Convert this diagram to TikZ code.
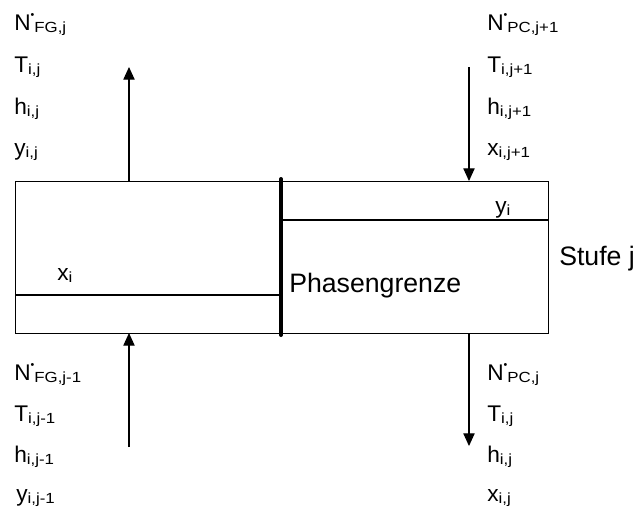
\documentclass[tikz,border=0pt]{standalone}
\usepackage{fontspec}
\setmainfont{Liberation Sans}
\newfontfamily\subf[FakeStretch=1.15]{Liberation Sans}
\usetikzlibrary{arrows.meta}
\newcommand{\lab}[2]{#1\raisebox{-1.5pt}{\subf\fontsize{11}{12}\selectfont #2}}
\newcommand{\Nd}[1]{N\raisebox{8.8pt}{\fontsize{8}{8}\selectfont •}\raisebox{-1.5pt}{\subf\fontsize{11}{12}\selectfont #1}}
\tikzset{
  txt/.style={anchor=base west, inner sep=0pt, font=\fontsize{20}{24}\selectfont},
  lbl/.style={anchor=base west, inner sep=0pt, font=\fontsize{17}{20}\selectfont},
  box/.style={draw=black, line width=0.8pt},
  flow/.style={draw=black, line width=0.8pt, -{Triangle[width=8.5pt,length=9.5pt]}},
  interface/.style={draw=black, line width=3pt, line cap=round}
}
\begin{document}
\begin{tikzpicture}[x=0.75pt,y=-0.75pt]
\useasboundingbox (0,0) rectangle (640,508);
% main box
\node[box, minimum width=533*0.75pt, minimum height=152*0.75pt, anchor=north west, inner sep=0pt] (stage) at (15,181) {};
% inner lines
\coordinate (xl) at (15,295);
\coordinate (xr) at (281,295);
\coordinate (yl) at (281,220);
\coordinate (yr) at (548,220);
\draw[box] (xl) -- (xr);
\draw[box] (yl) -- (yr);
% phase boundary
\coordinate (pt) at (281,179);
\coordinate (pb) at (281,335);
\draw[interface] (pt) -- (pb);
% arrows
\coordinate (a1s) at (129,181);
\coordinate (a1e) at (129,67);
\coordinate (a2s) at (469,67);
\coordinate (a2e) at (469,181);
\coordinate (a3s) at (129,447);
\coordinate (a3e) at (129,333);
\coordinate (a4s) at (469,333);
\coordinate (a4e) at (469,446);
\draw[flow] (a1s) -- (a1e);
\draw[flow] (a2s) -- (a2e);
\draw[flow] (a3s) -- (a3e);
\draw[flow] (a4s) -- (a4e);
% top left labels
\node[lbl] (tl1) at (14,30) {\Nd{FG,j}};
\node[lbl] (tl2) at (14,72) {\lab{T}{i,j}};
\node[lbl] (tl3) at (14,114) {\lab{h}{i,j}};
\node[lbl] (tl4) at (14,155) {\lab{y}{i,j}};
% top right labels
\node[lbl] (tr1) at (487,30) {\Nd{PC,j+1}};
\node[lbl] (tr2) at (487,72) {\lab{T}{i,j+1}};
\node[lbl] (tr3) at (487,114) {\lab{h}{i,j+1}};
\node[lbl] (tr4) at (487,155) {\lab{x}{i,j+1}};
% bottom left labels
\node[lbl] (bl1) at (14,380) {\Nd{FG,j-1}};
\node[lbl] (bl2) at (14,421) {\lab{T}{i,j-1}};
\node[lbl] (bl3) at (14,462) {\lab{h}{i,j-1}};
\node[lbl] (bl4) at (16,501) {\lab{y}{i,j-1}};
% bottom right labels
\node[lbl] (br1) at (487,380) {\Nd{PC,j}};
\node[lbl] (br2) at (487,421) {\lab{T}{i,j}};
\node[lbl] (br3) at (487,462) {\lab{h}{i,j}};
\node[lbl] (br4) at (487,501) {\lab{x}{i,j}};
% inner labels
\node[lbl] (xi) at (57,280) {\lab{x}{i}};
\node[lbl] (yi) at (495,213) {\lab{y}{i}};
\node[txt] (pg) at (289,292) {Phasengrenze};
\node[txt] (st) at (559,265) {Stufe j};
\end{tikzpicture}
\end{document}
